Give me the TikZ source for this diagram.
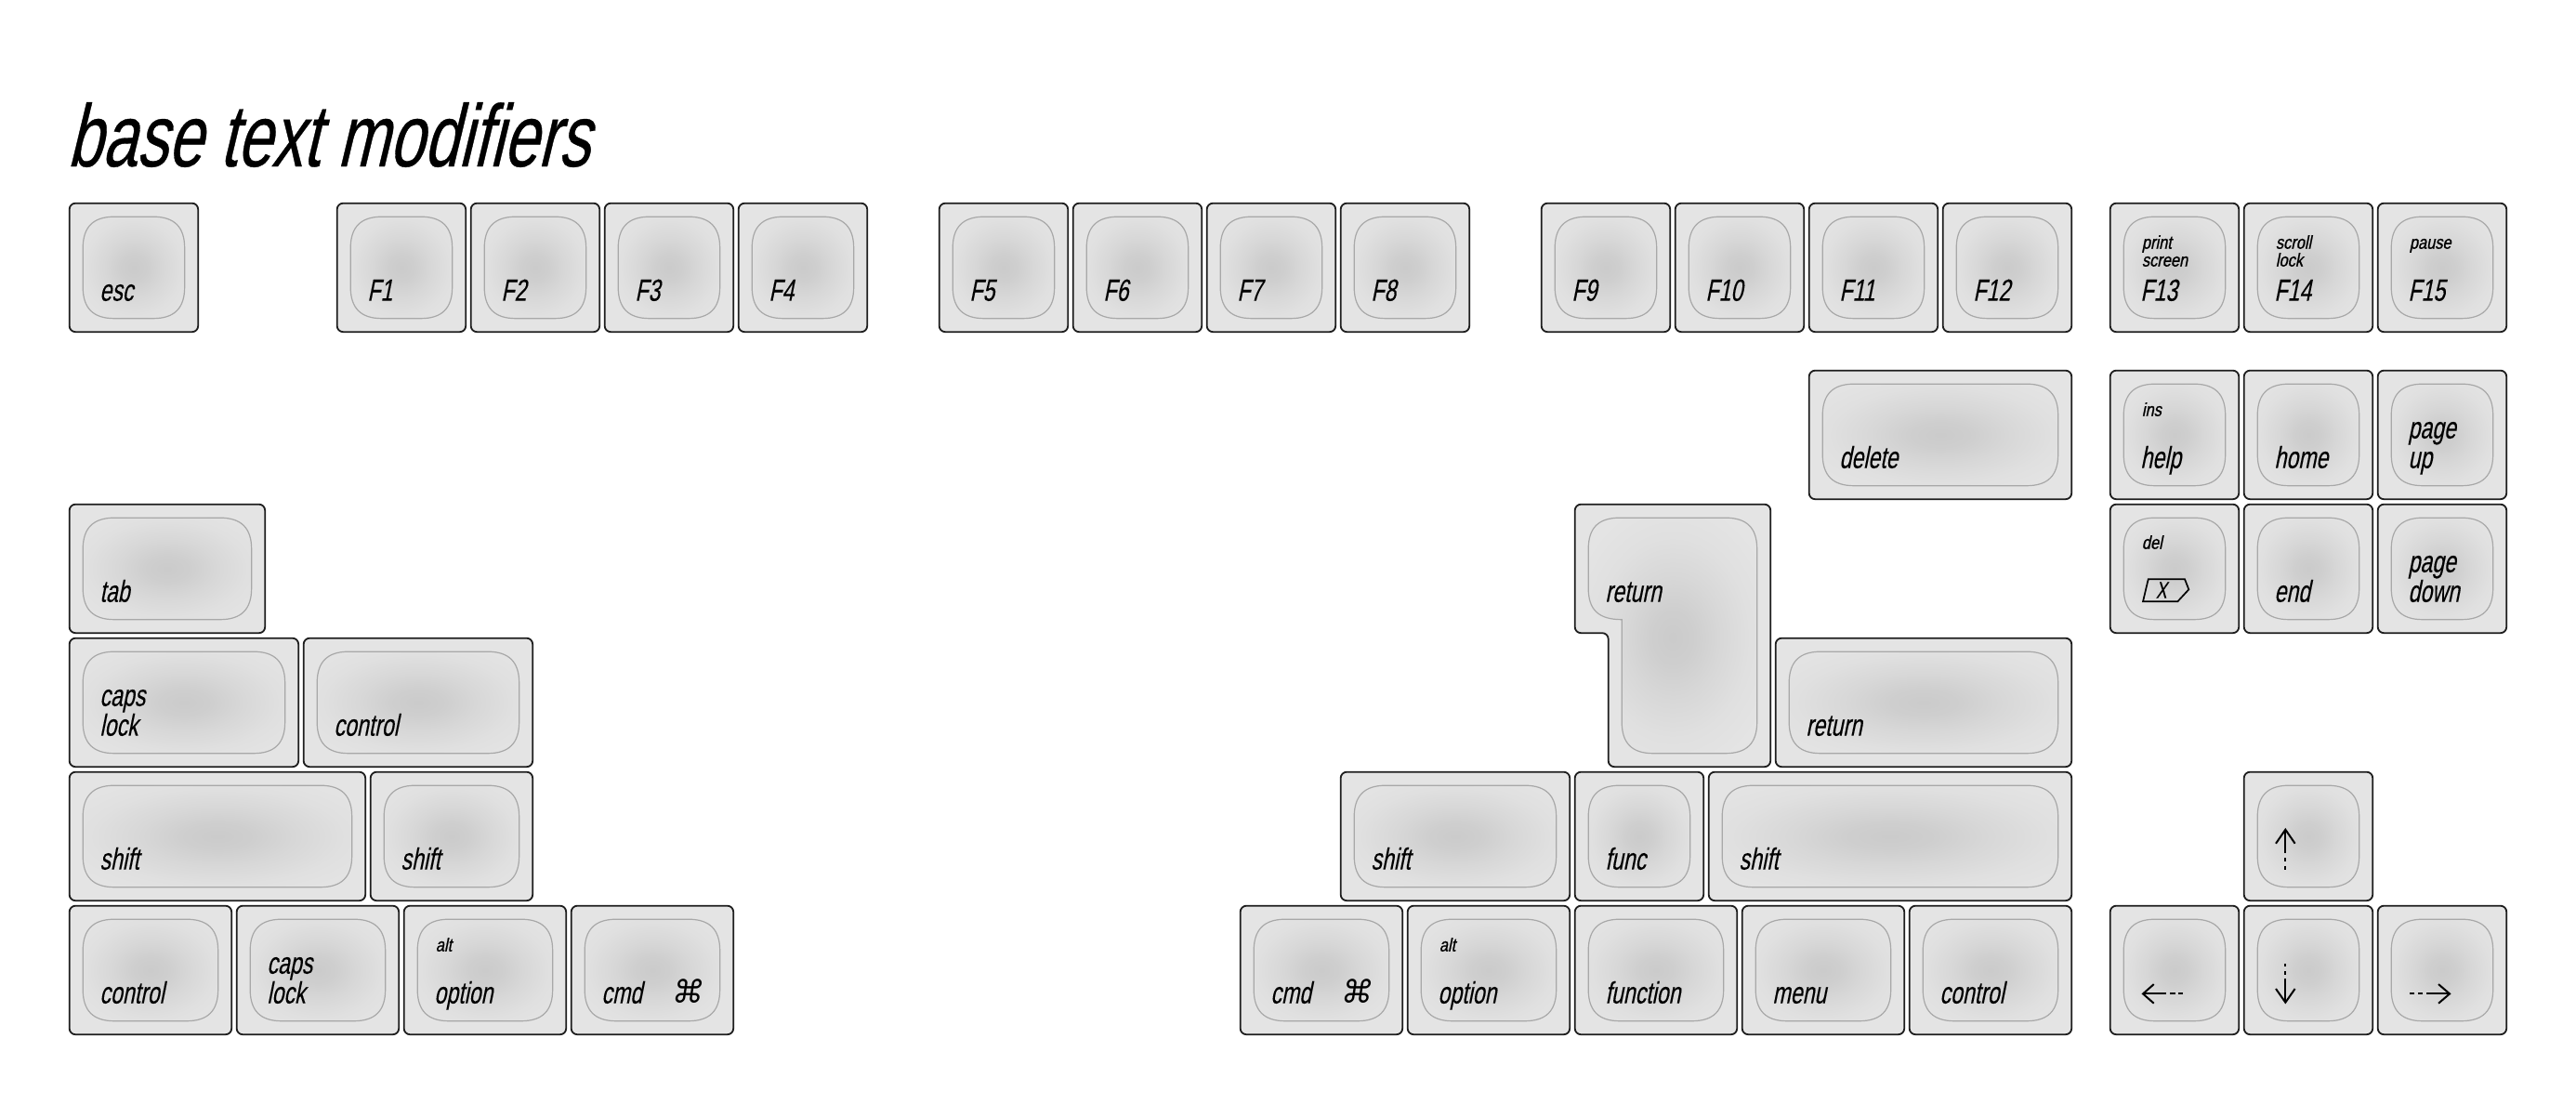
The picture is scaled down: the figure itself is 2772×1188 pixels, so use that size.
\documentclass[tikz,border=0pt]{standalone}
\usepackage{fontspec}
\setmainfont{Liberation Sans}
\newfontfamily\keyfont[FakeStretch=0.70,FakeSlant=0.2,FakeBold=0.15]{Liberation Sans}
\newfontfamily\smallfont[FakeStretch=0.82,FakeSlant=0.2,FakeBold=0.8]{Liberation Sans}
\newfontfamily\titlefont[FakeStretch=0.705,FakeSlant=0.24,FakeBold=0.35]{Liberation Sans}
\newfontfamily\cmdfont[FakeSlant=0.15]{DejaVu Sans}
\definecolor{keybg}{HTML}{E4E4E4}
\definecolor{keyedge}{HTML}{1E1E1E}
\definecolor{welledge}{HTML}{A8A8A8}
\pgfdeclareradialshading{keyglow}{\pgfpointorigin}{%
  rgb(0bp)=(0.795,0.795,0.795);
  rgb(5bp)=(0.81,0.81,0.81);
  rgb(11bp)=(0.845,0.845,0.845);
  rgb(18bp)=(0.878,0.878,0.878);
  rgb(25bp)=(0.894,0.894,0.894);
  rgb(50bp)=(0.894,0.894,0.894)}
\tikzset{
  keybody/.style={draw=keyedge,fill=keybg,line width=1.8pt,rounded corners=6.5pt},
  keywell/.style={draw=welledge,line width=1.2pt},
  keytext/.style={inner sep=0pt,anchor=base west,text=black,font=\keyfont\fontsize{33}{33}\selectfont},
  smalltext/.style={inner sep=0pt,anchor=base west,text=black,font=\smallfont\fontsize{20}{20}\selectfont},
  cmdtext/.style={inner sep=0pt,anchor=base west,text=black,font=\cmdfont\fontsize{34}{34}\selectfont},
  titletext/.style={inner sep=0pt,anchor=base west,text=black,font=\titlefont\fontsize{95}{95}\selectfont},
  arrowline/.style={draw=black,line width=2pt},
  arrowhead/.style={draw=black,line width=2pt,line join=miter}
}
\newcount\lblc
% rounded "squircle" outline of a key's dished top
\newcommand\wellpath[4]{(#1,#2+34) .. controls (#1,#2+11) and (#1+11,#2) .. (#1+34,#2)
  -- (#3-34,#2) .. controls (#3-11,#2) and (#3,#2+11) .. (#3,#2+34)
  -- (#3,#4-34) .. controls (#3,#4-11) and (#3-11,#4) .. (#3-34,#4)
  -- (#1+34,#4) .. controls (#1+11,#4) and (#1,#4-11) .. (#1,#4-34) -- cycle}
% #1 col, #2 top y, #3 width in units, #4 extra drawing
\newcommand\keycap[4]{%
  \pgfmathsetmacro\kx{74.7+#1*144}%
  \pgfmathsetmacro\kw{#3*144-5.5}%
  \pgfmathsetmacro\wr{\kw-14.5}%
  \pgfmathsetmacro\grx{(\kw-29)*0.66}%
  \begin{scope}[shift={(\kx,#2)}]
    \draw[keybody] (0,0) rectangle (\kw,138.5);
    \begin{scope}
      \clip \wellpath{14.5}{14.5}{\wr}{124};
      \path[shading=keyglow] (\kw/2,69.25) ellipse [x radius=\grx,y radius=72];
    \end{scope}
    \draw[keywell] \wellpath{14.5}{14.5}{\wr}{124};
    #4
  \end{scope}}
\newcommand\lab[2]{\global\advance\lblc by 1 \node[keytext] (lbl\the\lblc) at (32.5,#1) {#2};}
\newcommand\sml[2]{\global\advance\lblc by 1 \node[smalltext] (lbl\the\lblc) at (34,#1) {#2};}
\begin{document}
\begin{tikzpicture}[x=1pt,y=-1pt]
\useasboundingbox (0,0) rectangle (2772,1188);
\fill[white] (0,0) rectangle (2772,1188);
\node[titletext] (title) at (72,179) {base text modifiers};
% function row
\keycap{0}{218.7}{1}{\lab{105}{esc}}
\keycap{2}{218.7}{1}{\lab{105}{F1}}
\keycap{3}{218.7}{1}{\lab{105}{F2}}
\keycap{4}{218.7}{1}{\lab{105}{F3}}
\keycap{5}{218.7}{1}{\lab{105}{F4}}
\keycap{6.5}{218.7}{1}{\lab{105}{F5}}
\keycap{7.5}{218.7}{1}{\lab{105}{F6}}
\keycap{8.5}{218.7}{1}{\lab{105}{F7}}
\keycap{9.5}{218.7}{1}{\lab{105}{F8}}
\keycap{11}{218.7}{1}{\lab{105}{F9}}
\keycap{12}{218.7}{1}{\lab{105}{F10}}
\keycap{13}{218.7}{1}{\lab{105}{F11}}
\keycap{14}{218.7}{1}{\lab{105}{F12}}
\keycap{15.25}{218.7}{1}{\sml{49}{print}\sml{68}{screen}\lab{105}{F13}}
\keycap{16.25}{218.7}{1}{\sml{49}{scroll}\sml{68}{lock}\lab{105}{F14}}
\keycap{17.25}{218.7}{1}{\sml{49}{pause}\lab{105}{F15}}
% nav
\keycap{13}{398.7}{2}{\lab{105}{delete}}
\keycap{15.25}{398.7}{1}{\sml{49}{ins}\lab{105}{help}}
\keycap{16.25}{398.7}{1}{\lab{105}{home}}
\keycap{17.25}{398.7}{1}{\lab{73}{page}\lab{105}{up}}
\keycap{0}{542.7}{1.5}{\lab{105}{tab}}
\keycap{15.25}{542.7}{1}{\sml{48}{del}
  \draw[black,line width=1.7pt,line join=miter] (35.3,104.6) -- (41,80.6) -- (80.3,80.6) -- (84.6,91.6) -- (72.6,104.6) -- cycle;
  \global\advance\lblc by 1 \node[inner sep=0pt,anchor=base west,font=\keyfont\fontsize{25}{25}\selectfont] (lbl\the\lblc) at (49,101) {X};}
\keycap{16.25}{542.7}{1}{\lab{105}{end}}
\keycap{17.25}{542.7}{1}{\lab{73}{page}\lab{105}{down}}
% ISO return
\draw[keybody] (1694.7,542.7) -- (1905.2,542.7) -- (1905.2,825.2) -- (1730.7,825.2) -- (1730.7,681.2) -- (1694.7,681.2) -- cycle;
\begin{scope}
  \clip (1709.2,591) .. controls (1709.2,568) and (1720,557.2) .. (1743,557.2)
     -- (1856.7,557.2) .. controls (1879.7,557.2) and (1890.7,568) .. (1890.7,591)
     -- (1890.7,776.7) .. controls (1890.7,799.7) and (1879.7,810.7) .. (1856.7,810.7)
     -- (1779,810.7) .. controls (1756,810.7) and (1745.2,799.7) .. (1745.2,776.7)
     -- (1745.2,666.7) .. controls (1720,666.7) and (1709.2,656) .. (1709.2,633) -- cycle;
  \path[shading=keyglow] (1800,686) ellipse [x radius=115,y radius=150];
\end{scope}
\draw[keywell] (1709.2,591) .. controls (1709.2,568) and (1720,557.2) .. (1743,557.2)
     -- (1856.7,557.2) .. controls (1879.7,557.2) and (1890.7,568) .. (1890.7,591)
     -- (1890.7,776.7) .. controls (1890.7,799.7) and (1879.7,810.7) .. (1856.7,810.7)
     -- (1779,810.7) .. controls (1756,810.7) and (1745.2,799.7) .. (1745.2,776.7)
     -- (1745.2,666.7) .. controls (1720,666.7) and (1709.2,656) .. (1709.2,633) -- cycle;
\node[keytext] (isoreturn) at (1727.2,647.7) {return};
% third row
\keycap{0}{686.7}{1.75}{\lab{73}{caps}\lab{105}{lock}}
\keycap{1.75}{686.7}{1.75}{\lab{105}{control}}
\keycap{12.75}{686.7}{2.25}{\lab{105}{return}}
% fourth row
\keycap{0}{830.7}{2.25}{\lab{105}{shift}}
\keycap{2.25}{830.7}{1.25}{\lab{105}{shift}}
\keycap{9.5}{830.7}{1.75}{\lab{105}{shift}}
\keycap{11.25}{830.7}{1}{\lab{105}{func}}
\keycap{12.25}{830.7}{2.75}{\lab{105}{shift}}
\keycap{16.25}{830.7}{1}{%
  \draw[arrowline] (44.6,62) -- (44.6,87.6);
  \draw[arrowline] (44.6,92.6) -- (44.6,96);
  \draw[arrowline] (44.6,101) -- (44.6,105.3);
  \draw[arrowhead] (34.3,77) -- (44.6,62) -- (54.9,77);}
% bottom row
\keycap{0}{974.7}{1.25}{\lab{105}{control}}
\keycap{1.25}{974.7}{1.25}{\lab{73}{caps}\lab{105}{lock}}
\keycap{2.5}{974.7}{1.25}{\sml{49}{alt}\lab{105}{option}}
\keycap{3.75}{974.7}{1.25}{\lab{105}{cmd}\global\advance\lblc by 1 \node[cmdtext] (lbl\the\lblc) at (108,105) {⌘};}
\keycap{8.75}{974.7}{1.25}{\lab{105}{cmd}\global\advance\lblc by 1 \node[cmdtext] (lbl\the\lblc) at (108,105) {⌘};}
\keycap{10}{974.7}{1.25}{\sml{49}{alt}\lab{105}{option}}
\keycap{11.25}{974.7}{1.25}{\lab{105}{function}}
\keycap{12.5}{974.7}{1.25}{\lab{105}{menu}}
\keycap{13.75}{974.7}{1.25}{\lab{105}{control}}
\keycap{15.25}{974.7}{1}{%
  \draw[arrowline] (35.3,94.7) -- (60.3,94.7);
  \draw[arrowline] (64.3,94.7) -- (70,94.7);
  \draw[arrowline] (73.3,94.7) -- (78.3,94.7);
  \draw[arrowhead] (47,84.4) -- (35.3,94.7) -- (47,105);}
\keycap{16.25}{974.7}{1}{%
  \draw[arrowline] (44.6,104) -- (44.6,78.6);
  \draw[arrowline] (44.6,74) -- (44.6,70.3);
  \draw[arrowline] (44.6,65.3) -- (44.6,62);
  \draw[arrowhead] (34.3,89.3) -- (44.6,104) -- (54.9,89.3);}
\keycap{17.25}{974.7}{1}{%
  \draw[arrowline] (77.3,94.7) -- (52,94.7);
  \draw[arrowline] (48.6,94.7) -- (43.6,94.7);
  \draw[arrowline] (39.6,94.7) -- (34.6,94.7);
  \draw[arrowhead] (65.3,84.4) -- (77.3,94.7) -- (65.3,105);}
\end{tikzpicture}
\end{document}
